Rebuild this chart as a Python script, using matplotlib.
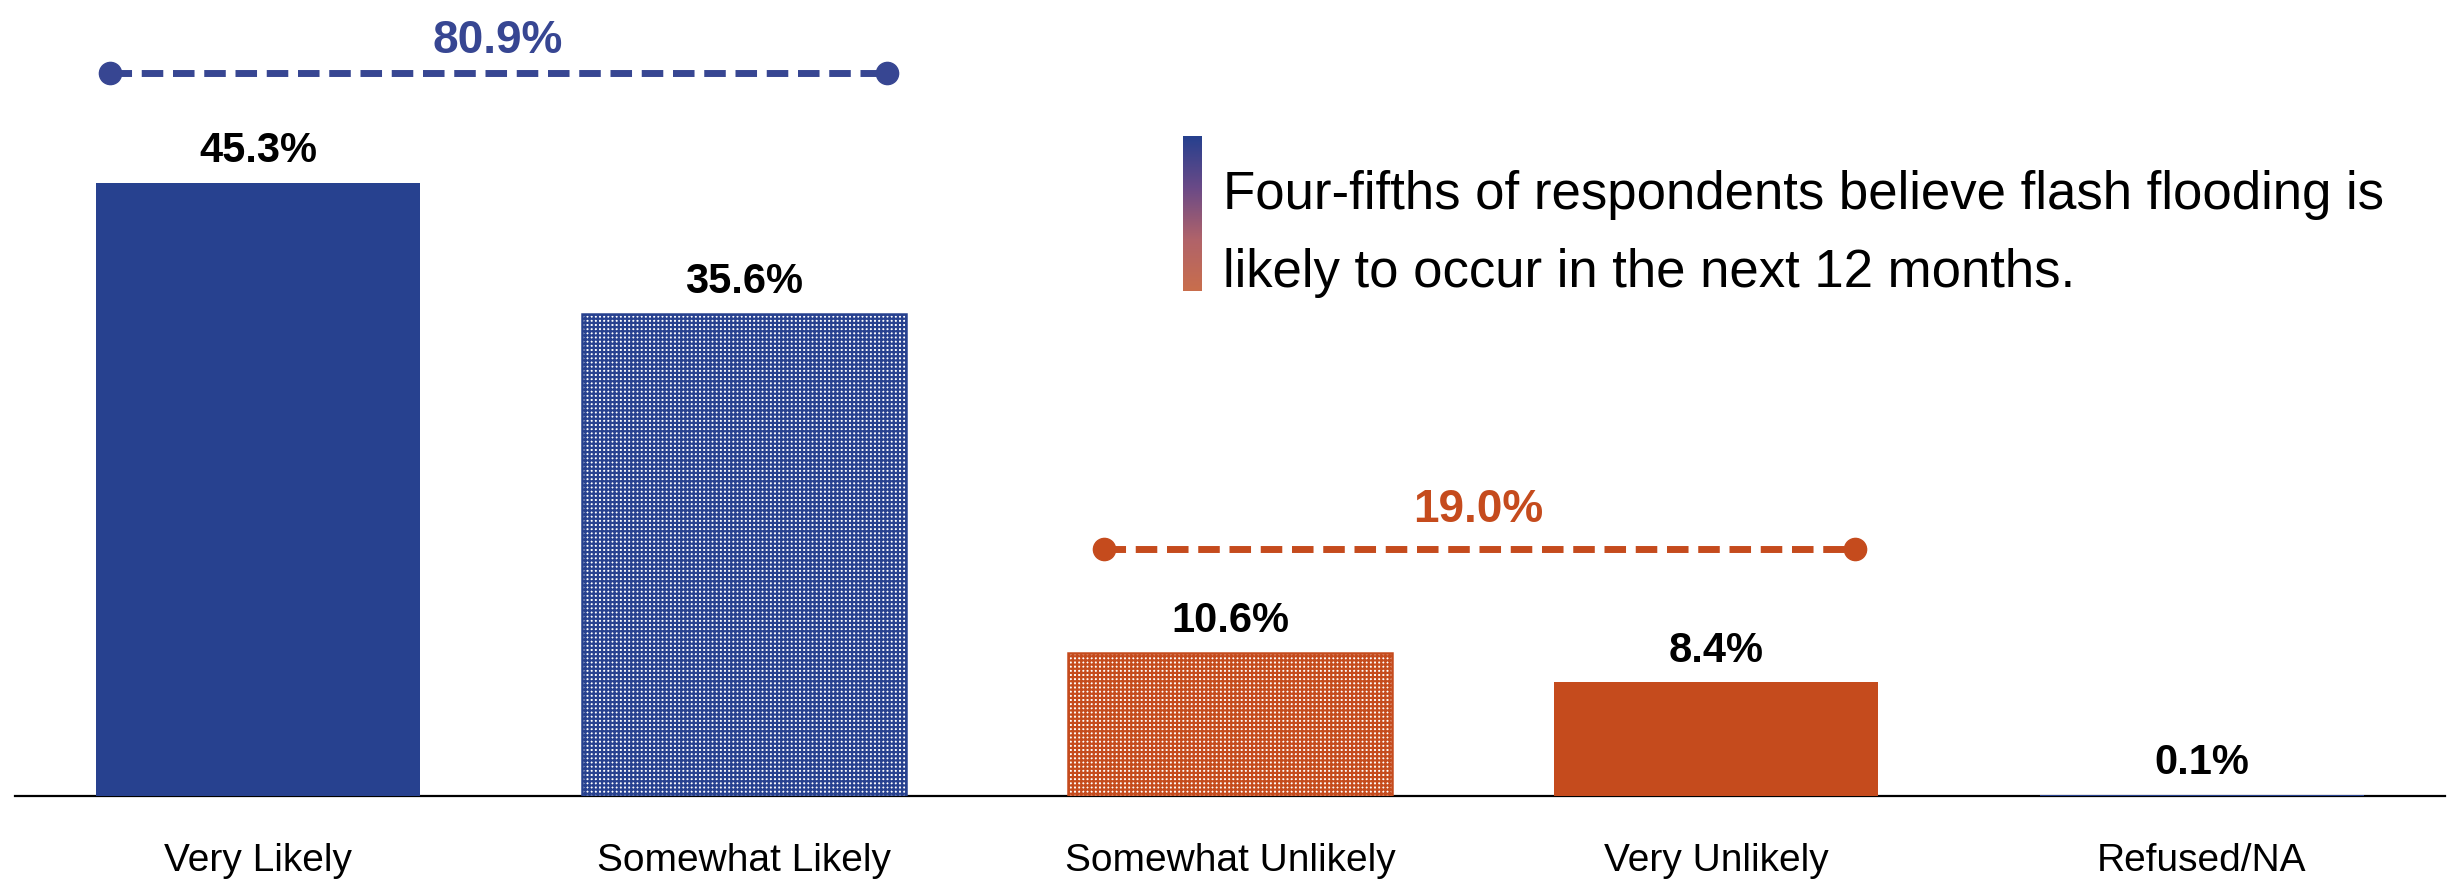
import matplotlib
matplotlib.use("Agg")
import matplotlib.pyplot as plt
import numpy as np
from matplotlib import font_manager
from matplotlib.colors import LinearSegmentedColormap

# ---------------- data ----------------
categories = ["Very Likely", "Somewhat Likely", "Somewhat Unlikely", "Very Unlikely", "Refused/NA"]
values = [45.3, 35.6, 10.6, 8.4, 0.1]
value_labels = ["45.3%", "35.6%", "10.6%", "8.4%", "0.1%"]
group_likely_label = "80.9%"
group_unlikely_label = "19.0%"
note_text = "Four-fifths of respondents believe flash flooding is\nlikely to occur in the next 12 months."

BLUE = "#27418F"
BLUE_LINE = "#374692"
ORANGE = "#C54B1D"
bar_colors = [BLUE, BLUE, ORANGE, ORANGE, BLUE]
hatched = [False, True, True, False, False]

names = {f.name for f in font_manager.fontManager.ttflist}
narrow = "Liberation Sans Narrow" if "Liberation Sans Narrow" in names else (
    "DejaVu Sans Condensed" if "DejaVu Sans Condensed" in names else "Liberation Sans")
is_narrow = narrow != "Liberation Sans"
regular = "Liberation Sans"
val_fs = 34 if is_narrow else 30
grp_fs = 37 if is_narrow else 33
note_font = narrow if is_narrow else regular
note_fs = 46 if is_narrow else 38

plt.rcParams["hatch.linewidth"] = 1.6

fig = plt.figure(figsize=(24.56, 8.82), dpi=100)
ax = fig.add_axes([15 / 2456, 86 / 882, 2430 / 2456, 796 / 882])

x = np.arange(len(categories))
width = 0.665
for i, (v, c, h) in enumerate(zip(values, bar_colors, hatched)):
    if h:
        ax.bar(x[i], v, width, facecolor="white", edgecolor=c, hatch="++++", linewidth=1.8, zorder=2)
    else:
        ax.bar(x[i], v, width, color=c, linewidth=0, zorder=2)
    ax.annotate(value_labels[i], (x[i], v), xytext=(0, 15), textcoords="offset points",
                ha="center", va="baseline", fontsize=val_fs, fontweight="bold",
                family=[narrow, "DejaVu Sans"], color="black")

ax.set_xlim(-0.5, 4.5)
ax.set_ylim(0, 58.83)

# group brackets
y_likely = 53.4
y_unlikely = 18.26
ax.plot([x[0] - 0.305, x[1] + 0.295], [y_likely, y_likely], color=BLUE_LINE, lw=5,
        ls=(0, (3.1, 1.4)), zorder=3, dash_capstyle="butt")
ax.plot([x[0] - 0.305, x[1] + 0.295], [y_likely, y_likely], "o", color=BLUE_LINE, ms=16, zorder=4)
ax.text((x[0] + x[1]) / 2 - 0.007, 54.9, group_likely_label, ha="center", va="baseline",
        fontsize=grp_fs, fontweight="bold", family=[narrow, "DejaVu Sans"], color=BLUE_LINE)

ax.plot([x[2] - 0.26, x[3] + 0.287], [y_unlikely, y_unlikely], color=ORANGE, lw=5,
        ls=(0, (3.1, 1.4)), zorder=3, dash_capstyle="butt")
ax.plot([x[2] - 0.26, x[3] + 0.287], [y_unlikely, y_unlikely], "o", color=ORANGE, ms=16, zorder=4)
ax.text((x[2] + x[3]) / 2 + 0.01, 20.25, group_unlikely_label, ha="center", va="baseline",
        fontsize=grp_fs, fontweight="bold", family=[narrow, "DejaVu Sans"], color=ORANGE)

# axes styling
for s in ["top", "right", "left"]:
    ax.spines[s].set_visible(False)
ax.spines["bottom"].set_linewidth(1.6)
ax.spines["bottom"].set_color("black")
ax.spines["bottom"].set_zorder(1)
ax.set_yticks([])
ax.set_xticks(x)
ax.set_xticklabels(categories, fontsize=28, family=[regular, "DejaVu Sans"])
ax.tick_params(axis="x", length=0, pad=34)

# note with gradient bar
gax = fig.add_axes([1183 / 2456, 1 - 291 / 882, 19 / 2456, 155 / 882])
cmap = LinearSegmentedColormap.from_list("g", ["#26408E", "#6A4A87", "#B0636A", "#C96E4C"])
gax.imshow(np.linspace(0, 1, 256).reshape(-1, 1), aspect="auto", cmap=cmap)
gax.axis("off")

line_h = 78.0  # px between baselines
note_lines = note_text.split("\n")
for k, line in enumerate(note_lines):
    fig.text(1223 / 2456, 1 - (209 + k * line_h) / 882, line, ha="left", va="baseline",
             fontsize=note_fs, family=[note_font, "DejaVu Sans"], color="black")

fig.savefig("out.png", dpi=100)
